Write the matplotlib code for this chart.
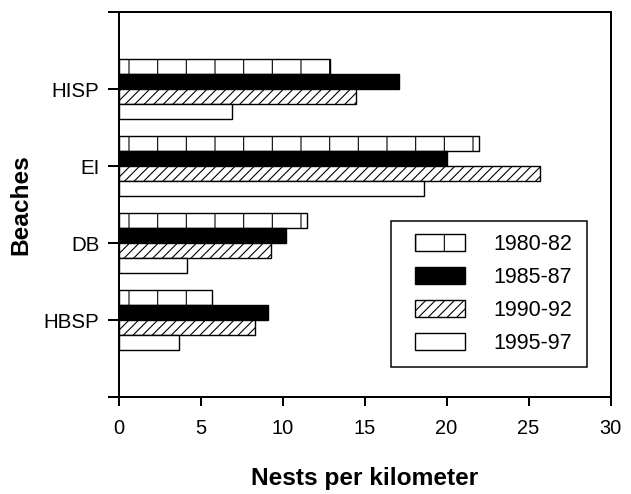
import numpy as np
import matplotlib
matplotlib.use('Agg')
import matplotlib.pyplot as plt
from matplotlib.patches import Rectangle
from matplotlib.container import BarContainer
from matplotlib.legend_handler import HandlerPatch, update_from_first_child

# values (nests per km)
beaches = ['HBSP', 'DB', 'EI', 'HISP']
periods = ['1980-82', '1985-87', '1990-92', '1995-97']
n_8082 = [5.7, 11.5, 22.0, 12.9]
n_8587 = [9.1, 10.2, 20.0, 17.1]
n_9092 = [8.3, 9.3, 25.7, 14.5]
n_9597 = [3.7, 4.2, 18.6, 6.9]

DPI = 172
PT = 72.0 / DPI  # points per pixel


def px(v):
	return v * PT


plt.rcParams['font.family'] = ['Liberation Sans', 'DejaVu Sans']
plt.rcParams['hatch.linewidth'] = px(1.1)
plt.rcParams['hatch.color'] = 'black'


def shifted_box(legend, orig_handle, xdescent, ydescent, width, height, fontsize):
	# leave a gap on the left of the swatch (in points)
	shift = px(12)
	return Rectangle((-xdescent + shift, -ydescent), width - shift, height)


def plot_nests():

	fig = plt.figure(figsize=(631 / DPI, 494 / DPI), dpi=DPI)
	ax = fig.add_axes([118.5 / 631, 1 - 397 / 494, 492 / 631, 385 / 494])

	pos = np.arange(1, len(beaches) + 1)
	h = 0.192
	styles = [
		(n_8082, 'white', '|'),
		(n_8587, 'black', None),
		(n_9092, 'white', '//////'),
		(n_9597, 'white', None),
	]
	for i, (vals, fc, hatch) in enumerate(styles):
		off = (1.5 - i) * h
		ax.barh(pos + off, vals, height=h, color=fc, edgecolor='black',
				hatch=hatch, linewidth=px(1.4), label=periods[i])

	ax.set_xlim(0, 30)
	ax.set_ylim(0, 5)
	ax.set_xticks(np.arange(0, 31, 5))
	ax.set_yticks(np.arange(0, 6))
	ax.set_yticklabels([''] + beaches + [''])

	ax.tick_params(axis='x', direction='out', length=px(9), width=px(2),
				   pad=px(13), labelsize=px(20))
	ax.tick_params(axis='y', direction='out', length=px(11), width=px(2),
				   pad=px(8), labelsize=px(20.5))
	for s in ax.spines.values():
		s.set_linewidth(px(2))

	ax.set_xlabel('Nests per kilometer', fontweight='bold', fontsize=px(24.5))
	ax.set_ylabel('Beaches', fontweight='bold', fontsize=px(24.5))
	ax.xaxis.set_label_coords(0.5, -0.182)
	ax.yaxis.set_label_coords(-0.176, 0.5)

	handler = HandlerPatch(patch_func=shifted_box, update_func=update_from_first_child)
	leg = ax.legend(loc='lower left', bbox_to_anchor=(0.553, 0.078, 0.4, 0.38),
					mode='expand', fancybox=False, framealpha=1, edgecolor='black',
					fontsize=px(21.5), handlelength=2.88, handleheight=0.8,
					handletextpad=1.3, labelspacing=0.56, borderpad=0.6,
					borderaxespad=0, handler_map={BarContainer: handler})
	leg.get_frame().set_linewidth(px(1.5))

	fig.savefig('out.png', dpi=DPI)


plot_nests()
